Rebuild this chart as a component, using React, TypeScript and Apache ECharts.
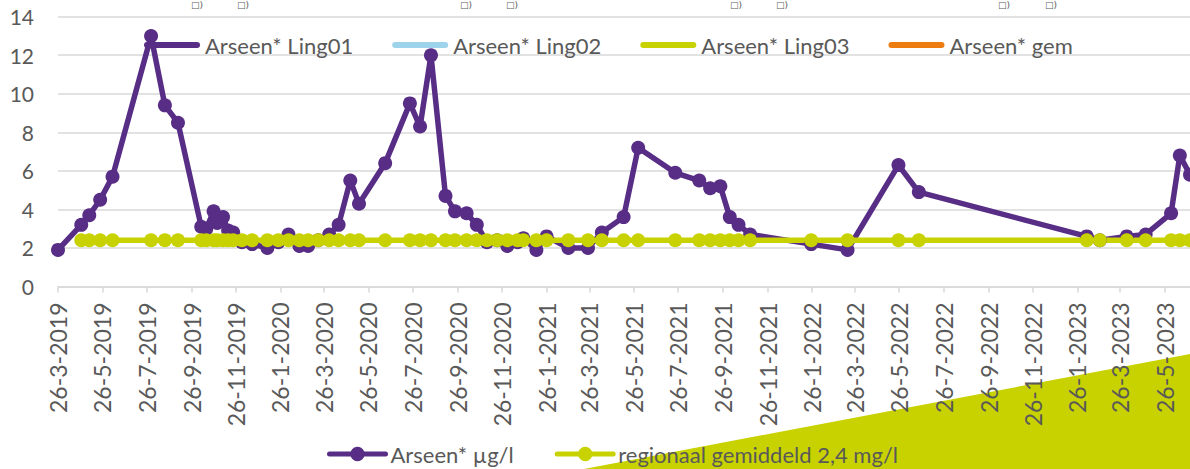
import React, { useEffect, useRef } from 'react';
import * as echarts from 'echarts';

// ---- data ----
const sampleDates = [
  '2019-03-26', '2019-04-27', '2019-05-08', '2019-05-23', '2019-06-09', '2019-08-01', '2019-08-20', '2019-09-07',
  '2019-10-09', '2019-10-16', '2019-10-26', '2019-10-31', '2019-11-08', '2019-11-15', '2019-11-22', '2019-12-04',
  '2019-12-18', '2020-01-08', '2020-01-23', '2020-02-06', '2020-02-21', '2020-03-04', '2020-03-18', '2020-04-02',
  '2020-04-15', '2020-05-01', '2020-05-13', '2020-06-18', '2020-07-22', '2020-08-05', '2020-08-20', '2020-09-09',
  '2020-09-22', '2020-10-08', '2020-10-22', '2020-11-05', '2020-11-19', '2020-12-03', '2020-12-17', '2020-12-25',
  '2021-01-12', '2021-01-26', '2021-02-25', '2021-03-24', '2021-04-12', '2021-05-12', '2021-06-01', '2021-07-22',
  '2021-08-24', '2021-09-08', '2021-09-22', '2021-10-05', '2021-10-17', '2021-11-02', '2022-01-25', '2022-03-16',
  '2022-05-25', '2022-06-22', '2023-02-08', '2023-02-26', '2023-04-04', '2023-04-30', '2023-06-04', '2023-06-16',
  '2023-06-30',
];

const arseenValues = [
  1.9, 3.2, 3.7, 4.5, 5.7, 13.0, 9.4, 8.5,
  3.1, 3.0, 3.9, 3.3, 3.6, 2.9, 2.8, 2.3,
  2.2, 2.0, 2.3, 2.7, 2.1, 2.1, 2.4, 2.7,
  3.2, 5.5, 4.3, 6.4, 9.5, 8.3, 12.0, 4.7,
  3.9, 3.8, 3.2, 2.3, 2.4, 2.1, 2.3, 2.5,
  1.9, 2.6, 2.0, 2.0, 2.8, 3.6, 7.2, 5.9,
  5.5, 5.1, 5.2, 3.6, 3.2, 2.7, 2.2, 1.9,
  6.3, 4.9, 2.6, 2.4, 2.6, 2.7, 3.8, 6.8,
  5.8,
];

const regionalValues = [
  null, 2.4, 2.4, 2.4, 2.4, 2.4, 2.4, 2.4,
  2.4, 2.4, 2.4, 2.4, 2.4, 2.4, 2.4, 2.4,
  2.4, 2.4, 2.4, 2.4, 2.4, 2.4, 2.4, 2.4,
  2.4, 2.4, 2.4, 2.4, 2.4, 2.4, 2.4, 2.4,
  2.4, 2.4, 2.4, 2.4, 2.4, 2.4, 2.4, 2.4,
  2.4, 2.4, 2.4, 2.4, 2.4, 2.4, 2.4, 2.4,
  2.4, 2.4, 2.4, 2.4, 2.4, 2.4, 2.4, 2.4,
  2.4, 2.4, 2.4, 2.4, 2.4, 2.4, 2.4, 2.4,
  2.4,
];

const xTickLabels = [
  '26-3-2019', '26-5-2019', '26-7-2019', '26-9-2019', '26-11-2019',
  '26-1-2020', '26-3-2020', '26-5-2020', '26-7-2020', '26-9-2020', '26-11-2020',
  '26-1-2021', '26-3-2021', '26-5-2021', '26-7-2021', '26-9-2021', '26-11-2021',
  '26-1-2022', '26-3-2022', '26-5-2022', '26-7-2022', '26-9-2022', '26-11-2022',
  '26-1-2023', '26-3-2023', '26-5-2023',
];

const xMin = '2019-03-26';
const xMax = '2023-06-30';

const mainSeriesNames = ['Arseen* µg/l', 'regionaal gemiddeld 2,4 mg/l'];
const topLegendNames = ['Arseen* Ling01', 'Arseen* Ling02', 'Arseen* Ling03', 'Arseen* gem'];
const topLegendColors = ['#582d86', '#9dd4ec', '#c8d200', '#ee7d11'];
const topMarkX = [191, 237, 460, 506, 730, 776, 998, 1045];

const PURPLE = '#582d86';
const LIME = '#c8d200';
const TEXT = '#595959';
const GRID = '#d9d9d9';
const FONT = 'Lato';

const ROUND_BAR = 'path://M3,0 L53,0 A3,3 0 0 1 53,6 L3,6 A3,3 0 0 1 3,0 Z';

function ymd(s: string): number {
  const [y, m, d] = s.split('-').map(Number);
  return Date.UTC(y, m - 1, d);
}
function dmy(s: string): number {
  const [d, m, y] = s.split('-').map(Number);
  return Date.UTC(y, m - 1, d);
}

export default function App() {
  const ref = useRef<HTMLDivElement>(null);

  useEffect(() => {
    if (!ref.current) return;
    const chart = echarts.init(ref.current, null, { renderer: 'svg' });
    const tickValues = xTickLabels.map(dmy);
    const times = sampleDates.map(ymd);

    const dummySeries = topLegendNames.map((name, i) => ({
      name,
      type: 'line',
      data: [],
      symbol: 'none',
      color: topLegendColors[i],
      itemStyle: { color: topLegendColors[i] },
      lineStyle: { width: 6, cap: 'round', color: topLegendColors[i] },
    }));

    const option: any = {
      animation: false,
      textStyle: { fontFamily: FONT },
      grid: { left: 58, right: 0, top: 16.7, bottom: 182.5, containLabel: false },
      xAxis: {
        type: 'value',
        min: ymd(xMin),
        max: ymd(xMax),
        axisLine: { show: true, lineStyle: { color: GRID, width: 1.5 } },
        axisTick: { show: true, customValues: tickValues, length: 6, lineStyle: { color: GRID, width: 1.5 } },
        axisLabel: {
          customValues: tickValues,
          rotate: 90,
          margin: 16,
          color: TEXT,
          fontSize: 23,
          fontFamily: FONT,
          formatter: (v: number) => {
            const i = tickValues.findIndex((t) => Math.abs(t - v) < 43200000);
            return i >= 0 ? xTickLabels[i] : '';
          },
        },
        splitLine: { show: false },
      },
      yAxis: {
        type: 'value',
        min: 0,
        max: 14,
        interval: 2,
        axisLine: { show: false },
        axisTick: { show: false },
        axisLabel: { margin: 24, color: TEXT, fontSize: 21, fontFamily: FONT },
        splitLine: { lineStyle: { color: GRID, width: 1.5 } },
      },
      legend: [
        {
          data: topLegendNames.map((name) => ({ name, icon: ROUND_BAR })),
          left: 144,
          top: 34,
          padding: 0,
          itemWidth: 56,
          itemHeight: 6,
          itemGap: 39,
          selectedMode: false,
          textStyle: { color: TEXT, fontSize: 22, fontFamily: FONT },
        },
        {
          data: mainSeriesNames,
          left: 327,
          top: 443,
          padding: 0,
          itemWidth: 56,
          itemHeight: 18,
          itemGap: 41,
          selectedMode: false,
          lineStyle: { width: 5, cap: 'round' },
          textStyle: { color: TEXT, fontSize: 22, fontFamily: FONT },
        },
      ],
      graphic: [
        {
          type: 'polygon',
          z: -1,
          silent: true,
          shape: { points: [[584, 469], [1190, 354], [1190, 469]] },
          style: { fill: LIME },
        },
        ...topMarkX.map((x) => ({
          type: 'text',
          x,
          y: 0,
          z: 10,
          silent: true,
          style: { text: '□)', fontSize: 9, fill: TEXT, fontFamily: 'DejaVu Sans', verticalAlign: 'top' },
        })),
      ],
      series: [
        ...dummySeries,
        {
          name: mainSeriesNames[0],
          type: 'line',
          data: times.map((t, i) => [t, arseenValues[i]]),
          color: PURPLE,
          symbol: 'circle',
          symbolSize: 14,
          lineStyle: { width: 5.5, color: PURPLE, cap: 'round', join: 'round' },
          itemStyle: { color: PURPLE },
        },
        {
          name: mainSeriesNames[1],
          type: 'line',
          data: times.map((t, i) => [t, regionalValues[i]]),
          color: LIME,
          symbol: 'circle',
          symbolSize: 14,
          lineStyle: { width: 5.5, color: LIME, cap: 'round', join: 'round' },
          itemStyle: { color: LIME },
        },
      ],
    };
    chart.setOption(option);
    return () => chart.dispose();
  }, []);

  return (
    <div
      ref={ref}
      style={{ position: 'fixed', left: 0, top: 0, width: 1190, height: 469, background: '#ffffff' }}
    />
  );
}
